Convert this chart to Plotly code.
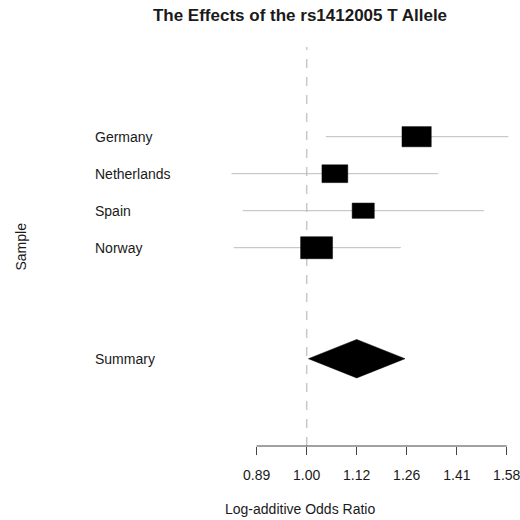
import numpy as np
import plotly.graph_objects as go

# Per-study odds ratios with 95% confidence limits
studies = ["Germany", "Netherlands", "Spain", "Norway"]
odds_ratio = [1.288, 1.067, 1.139, 1.023]
ci_lower = [1.045, 0.841, 0.863, 0.845]
ci_upper = [1.591, 1.354, 1.504, 1.242]

# Pooled estimate
summary_label = "Summary"
summary_or = 1.122
summary_lower = 1.004
summary_upper = 1.254

# Axis ticks (log scale)
tick_values = [0.891, 1.0, 1.122, 1.259, 1.413, 1.585]
tick_labels = ["0.89", "1.00", "1.12", "1.26", "1.41", "1.58"]

FONT = "Liberation Sans, Arial, sans-serif"
TXT = "#1a1a1a"
L, R, T, B = 80, 0, 47, 74
W = H = 520
x_lo = (L - 306.7) / 1000.0
x_hi = (W - R - 306.7) / 1000.0
row_px = 37.0
plot_h = H - T - B
first_row_px = 136.7 - T
y_top = -first_row_px / row_px
y_bot = y_top + plot_h / row_px

lg = np.log10
est = lg(odds_ratio)
lo = lg(ci_lower)
hi = lg(ci_upper)

fig = go.Figure()

# reference line at OR = 1
fig.add_shape(type="line", xref="x", yref="paper", x0=0, x1=0, y0=0, y1=1,
              line=dict(color="#c8c8c8", width=1.5, dash="dash"), layer="below")

# bottom axis line spanning the tick range
fig.add_shape(type="line", xref="x", yref="paper",
              x0=lg(tick_values[0]), x1=lg(tick_values[-1]), y0=0, y1=0,
              line=dict(color="#444", width=1))

# box size inversely proportional to CI width
k = 0.00534
for i, name in enumerate(studies):
    fig.add_trace(go.Scatter(x=[lo[i], hi[i]], y=[i, i], mode="lines",
                             line=dict(color="#bdbdbd", width=1),
                             hoverinfo="skip", showlegend=False))
    half_w = k / (hi[i] - lo[i]) / 2
    half_h = (half_w * 1000 * 0.69) / row_px
    xs = [est[i] - half_w, est[i] + half_w, est[i] + half_w, est[i] - half_w, est[i] - half_w]
    ys = [i - half_h, i - half_h, i + half_h, i + half_h, i - half_h]
    fig.add_trace(go.Scatter(x=xs, y=ys, mode="lines", fill="toself",
                             fillcolor="black", line=dict(color="black", width=0.5),
                             hoverinfo="skip", showlegend=False))
    fig.add_annotation(x=(92.7 - L) / (W - L - R), xref="paper", y=i, yref="y",
                       text=name, showarrow=False, xanchor="left", yanchor="middle",
                       font=dict(family=FONT, size=14, color=TXT))

# pooled diamond
s_row = len(studies) + 2
s_est, s_lo, s_hi = lg(summary_or), lg(summary_lower), lg(summary_upper)
dh = 0.52
fig.add_trace(go.Scatter(x=[s_lo, s_est, s_hi, s_est, s_lo],
                         y=[s_row, s_row - dh, s_row, s_row + dh, s_row],
                         mode="lines", fill="toself", fillcolor="black",
                         line=dict(color="black", width=0.5),
                         hoverinfo="skip", showlegend=False))
fig.add_annotation(x=(92.7 - L) / (W - L - R), xref="paper", y=s_row, yref="y",
                   text=summary_label, showarrow=False, xanchor="left", yanchor="middle",
                   font=dict(family=FONT, size=14, color=TXT))

# axis titles
fig.add_annotation(x=(20 - L) / (W - L - R), xref="paper", y=0.5, yref="paper",
                   text="Sample", textangle=-90, showarrow=False,
                   xanchor="center", yanchor="middle",
                   font=dict(family=FONT, size=14, color=TXT))
fig.add_annotation(x=0.5, xref="paper", y=-(509 - (H - B)) / plot_h, yref="paper",
                   text="Log-additive Odds Ratio", showarrow=False,
                   xanchor="center", yanchor="middle",
                   font=dict(family=FONT, size=14, color=TXT))

fig.update_layout(
    width=W, height=H,
    margin=dict(l=L, r=R, t=T, b=B),
    paper_bgcolor="white", plot_bgcolor="white",
    title=dict(text="<b>The Effects of the rs1412005 T Allele</b>",
               x=0.5, xref="paper", xanchor="center",
               y=1 - 15 / H, yanchor="middle",
               font=dict(family=FONT, size=17, color=TXT)),
    xaxis=dict(range=[x_lo, x_hi], showgrid=False, zeroline=False, showline=False,
               tickmode="array", tickvals=list(lg(tick_values)), ticktext=tick_labels,
               ticks="outside", ticklen=8, tickcolor="#444", tickwidth=1,
               ticklabelstandoff=8, ticklabeloverflow="allow",
               tickfont=dict(family=FONT, size=14, color=TXT)),
    yaxis=dict(range=[y_bot, y_top], showgrid=False, zeroline=False, showline=False,
               showticklabels=False, ticks=""),
)

fig.write_html("out.html")
